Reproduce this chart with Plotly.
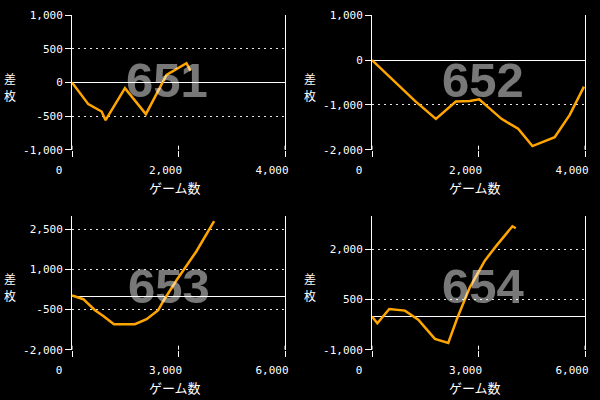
import plotly.graph_objects as go

# ---- data ----
games_651 = [0, 306, 556, 631, 994, 1388, 1775, 2150, 2225]
diff_651 = [0, -322, -432, -561, -84, -471, 114, 288, 174]

games_652 = [0, 431, 806, 1200, 1575, 1838, 2013, 2431, 2744, 3013, 3431, 3713, 3981]
diff_652 = [0, -481, -911, -1311, -926, -911, -874, -1311, -1533, -1919, -1719, -1222, -593]

games_653 = [0, 319, 647, 881, 1181, 1772, 2100, 2428, 2569, 2944, 3506, 4003]
diff_653 = [30, -112, -524, -736, -1047, -1047, -860, -524, -187, 598, 1683, 2805]

games_654 = [0, 150, 487, 928, 1303, 1772, 2147, 2400, 2756, 3178, 3506, 3956, 4050]
diff_654 = [-10, -209, 219, 169, -100, -678, -798, -60, 867, 1665, 2114, 2692, 2632]

machines = ["651", "652", "653", "654"]

x_ticks_top = [0, 2000, 4000]
x_text_top = ["0", "2,000", "4,000"]
x_ticks_bot = [0, 3000, 6000]
x_text_bot = ["0", "3,000", "6,000"]

y_ticks_651 = [-1000, -500, 0, 500, 1000]
y_text_651 = ["-1,000", "-500", "0", "500", "1,000"]
y_ticks_652 = [-2000, -1000, 0, 1000]
y_text_652 = ["-2,000", "-1,000", "0", "1,000"]
y_ticks_653 = [-2000, -500, 1000, 2500]
y_text_653 = ["-2,000", "-500", "1,000", "2,500"]
y_ticks_654 = [-1000, 500, 2000]
y_text_654 = ["-1,000", "500", "2,000"]

y_title_chars = ["差", "枚"]
x_title = "ゲーム数"

y_ranges = [[-1000, 1000], [-2000, 1000], [-2000, 3000], [-1000, 3000]]
x_ranges = [[0, 4000], [0, 4000], [0, 6000], [0, 6000]]

series = [(games_651, diff_651), (games_652, diff_652), (games_653, diff_653), (games_654, diff_654)]
xticks = [(x_ticks_top, x_text_top), (x_ticks_top, x_text_top), (x_ticks_bot, x_text_bot), (x_ticks_bot, x_text_bot)]
yticks = [(y_ticks_651, y_text_651), (y_ticks_652, y_text_652), (y_ticks_653, y_text_653), (y_ticks_654, y_text_654)]

W, H = 600, 400
# plot areas in pixels: (left, right, top, bottom)
boxes = [(72, 285, 15.3, 149.7), (372, 585, 15.3, 149.7), (72, 285, 216, 349.7), (372, 585, 216, 349.7)]
wm_pos = [(166.7, 79.7), (483.3, 79.7), (169, 286), (483.3, 286)]

TICKFONT = dict(family="DejaVu Sans Mono", size=11, color="white")
JPFONT = dict(family="Noto Sans CJK JP", size=13, color="white")
YTFONT = dict(family="Noto Sans CJK JP", size=12, color="white")

fig = go.Figure()
layout = dict(
    width=W, height=H, autosize=False,
    paper_bgcolor="black", plot_bgcolor="black",
    margin=dict(l=0, r=0, t=0, b=0, pad=0, autoexpand=False),
    showlegend=False,
)
annotations = []
shapes = []

for i in range(4):
    sfx = "" if i == 0 else str(i + 1)
    gx, gy = series[i]
    fig.add_trace(go.Scatter(
        x=gx, y=gy, mode="lines",
        line=dict(color="#FFA500", width=2.5),
        xaxis="x" + sfx, yaxis="y" + sfx, hoverinfo="skip",
    ))
    l, r, t, b = boxes[i]
    layout["xaxis" + sfx] = dict(
        domain=[l / W, r / W], anchor="y" + sfx, range=x_ranges[i],
        showgrid=False, zeroline=False, showline=False, automargin=False,
        ticks="outside", ticklen=6, tickcolor="white", tickwidth=1,
        tickvals=xticks[i][0], ticktext=xticks[i][1],
        tickfont=TICKFONT, ticklabelshift=-13, ticklabelstandoff=4,
    )
    layout["yaxis" + sfx] = dict(
        domain=[1 - b / H, 1 - t / H], anchor="x" + sfx, range=y_ranges[i],
        showgrid=True, gridcolor="#e6e6e6", griddash="2px,4px", gridwidth=1,
        zeroline=True, zerolinecolor="white", zerolinewidth=1.2,
        showline=True, mirror=True, linecolor="white", linewidth=1,
        automargin=False,
        ticks="outside", ticklen=6, tickcolor="white", tickwidth=1,
        tickvals=yticks[i][0], ticktext=yticks[i][1],
        tickfont=TICKFONT,
    )
    # inner part of x ticks
    for tv in xticks[i][0]:
        shapes.append(dict(type="line", xref="x" + sfx, yref="y" + sfx + " domain",
                           x0=tv, x1=tv, y0=0, y1=4 / (b - t),
                           line=dict(color="white", width=1)))
    # watermark
    wx, wy = wm_pos[i]
    annotations.append(dict(
        text="<b>%s</b>" % machines[i], x=wx / W, y=1 - wy / H,
        xref="paper", yref="paper", xanchor="center", yanchor="middle",
        showarrow=False,
        font=dict(family="Liberation Sans", size=49, color="rgba(255,255,255,0.47)"),
    ))
    # axis titles
    ox = 0 if i % 2 == 0 else 300
    oy = 0 if i < 2 else 200
    for k, ch in enumerate(y_title_chars):
        annotations.append(dict(
            text=ch, x=(ox + 10) / W, y=1 - (oy + 78 + 17 * k) / H,
            xref="paper", yref="paper", xanchor="center", yanchor="middle",
            showarrow=False, font=YTFONT, borderpad=0,
        ))
    annotations.append(dict(
        text=x_title, x=(ox + 175) / W, y=1 - (oy + 187.5) / H,
        xref="paper", yref="paper", xanchor="center", yanchor="middle",
        showarrow=False, font=JPFONT,
    ))

layout["annotations"] = annotations
layout["shapes"] = shapes
fig.update_layout(**layout)
fig.write_html("out.html", config={"displayModeBar": False},
               post_script="document.body.style.margin='0';document.body.style.background='black';")
